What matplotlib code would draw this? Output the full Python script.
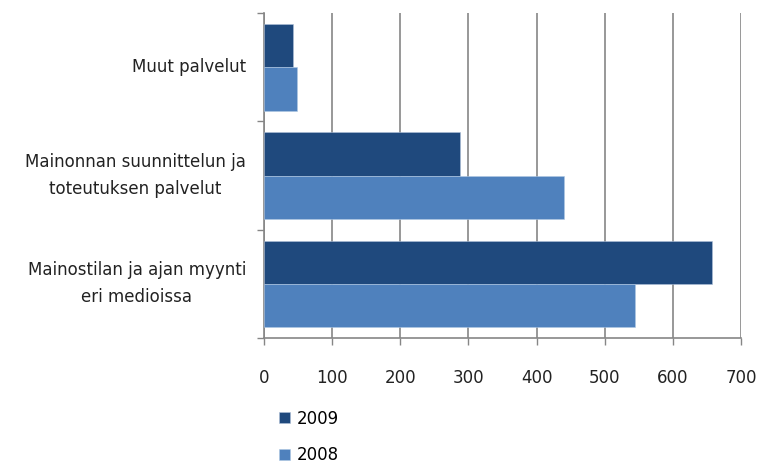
import numpy as np
import matplotlib.pyplot as plt

plt.rcParams['font.family'] = ['DejaVu Sans']

# categories from bottom to top
categories = ['Mainostilan ja ajan myynti\neri medioissa',
              'Mainonnan suunnittelun ja\ntoteutuksen palvelut',
              'Muut palvelut']
values_2009 = [658, 287, 43]
values_2008 = [545, 440, 48]
x_ticks = [0, 100, 200, 300, 400, 500, 600, 700]

c2009 = '#1f497d'
c2008 = '#4f81bd'
grid_col = '#868686'

fig = plt.figure(figsize=(7.6, 4.66), dpi=100)
ax = fig.add_axes([264 / 760, 1 - 338 / 466, (741 - 264) / 760, (338 - 13) / 466])

y = np.arange(len(categories))
h = 0.4
ax.barh(y + h / 2, values_2009, height=h, color=c2009, edgecolor='#b0c0d8', linewidth=0.4, label='2009', zorder=3)
ax.barh(y - h / 2, values_2008, height=h, color=c2008, edgecolor='#b0c8e4', linewidth=0.4, label='2008', zorder=3)

ax.set_xlim(0, 700)
ax.set_ylim(-0.5, 2.5)
ax.set_xticks(x_ticks)
ax.set_xticklabels([str(t) for t in x_ticks], fontsize=12, color='#222222')
ax.tick_params(axis='x', length=5, width=1, color=grid_col, pad=17)

ax.set_yticks([-0.5, 0.5, 1.5, 2.5])
ax.set_yticklabels([])
ax.set_yticks(y, minor=True)
ax.set_yticklabels(categories, minor=True, fontsize=12, ha='right', va='center',
                   multialignment='center', linespacing=1.65, color='#222222')
ax.tick_params(axis='y', which='major', length=5, width=1, color=grid_col)
ax.tick_params(axis='y', which='minor', length=0, pad=13)

ax.xaxis.grid(True, color=grid_col, linewidth=1.2, zorder=0)
ax.set_axisbelow(True)
for s in ['top', 'right']:
    ax.spines[s].set_visible(False)
for s in ['left', 'bottom']:
    ax.spines[s].set_color(grid_col)
    ax.spines[s].set_linewidth(1.2)

fig.legend(loc='upper left', bbox_to_anchor=(272 / 760, 1 - 403 / 466), frameon=False,
           fontsize=12, handlelength=0.65, handleheight=0.65, labelspacing=1.1, handletextpad=0.45,
           borderaxespad=0)

fig.savefig('out.png', dpi=100)
